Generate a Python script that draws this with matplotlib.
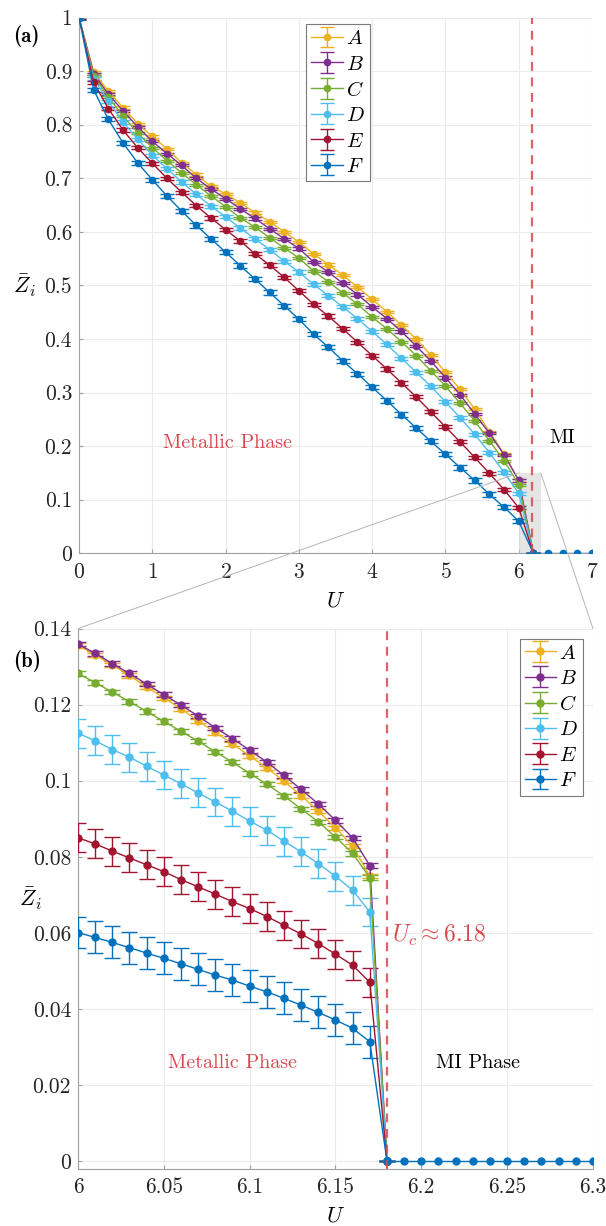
import matplotlib.pyplot as plt
import numpy as np
from matplotlib.patches import Rectangle, ConnectionPatch

plt.rcParams['font.family'] = 'serif'
plt.rcParams['font.serif'] = ['cmr10']
plt.rcParams['mathtext.fontset'] = 'cm'
plt.rcParams['axes.unicode_minus'] = False
plt.rcParams['axes.formatter.use_mathtext'] = True

labels = ['A', 'B', 'C', 'D', 'E', 'F']
colors = ['#EDB120', '#7E2F8E', '#77AC30', '#4DBEEE', '#A2142F', '#0072BD']

# panel (a): coarse scan in U
u_a = np.round(np.arange(0, 6.01, 0.2), 2)
u_a_ins = np.round(np.arange(6.2, 7.01, 0.2), 2)
z_a = {
    'A': [1.0, 0.898, 0.863, 0.832, 0.802, 0.778, 0.755, 0.729, 0.707, 0.685, 0.671,
          0.654, 0.636, 0.619, 0.600, 0.581, 0.559, 0.539, 0.519, 0.497, 0.474,
          0.451, 0.426, 0.400, 0.370, 0.338, 0.306, 0.269, 0.227, 0.185, 0.136],
    'B': [1.0, 0.895, 0.857, 0.826, 0.796, 0.769, 0.746, 0.724, 0.700, 0.680, 0.662,
          0.643, 0.625, 0.606, 0.587, 0.569, 0.544, 0.525, 0.504, 0.483, 0.460,
          0.438, 0.414, 0.387, 0.359, 0.328, 0.296, 0.260, 0.224, 0.184, 0.136],
    'C': [1.0, 0.891, 0.852, 0.816, 0.785, 0.757, 0.733, 0.710, 0.688, 0.667, 0.647,
          0.626, 0.609, 0.589, 0.570, 0.551, 0.527, 0.507, 0.486, 0.465, 0.441,
          0.419, 0.395, 0.369, 0.341, 0.312, 0.280, 0.247, 0.210, 0.173, 0.128],
    'D': [1.0, 0.886, 0.844, 0.805, 0.773, 0.743, 0.718, 0.693, 0.670, 0.648, 0.628,
          0.607, 0.587, 0.567, 0.545, 0.525, 0.502, 0.481, 0.460, 0.438, 0.414,
          0.390, 0.364, 0.338, 0.312, 0.283, 0.253, 0.222, 0.188, 0.151, 0.112],
    'E': [1.0, 0.879, 0.830, 0.790, 0.757, 0.728, 0.700, 0.674, 0.649, 0.626, 0.604,
          0.583, 0.559, 0.538, 0.515, 0.490, 0.465, 0.443, 0.419, 0.394, 0.369,
          0.344, 0.318, 0.292, 0.264, 0.236, 0.208, 0.179, 0.149, 0.119, 0.085],
    'F': [1.0, 0.865, 0.810, 0.766, 0.729, 0.697, 0.667, 0.639, 0.612, 0.587, 0.562,
          0.537, 0.512, 0.487, 0.462, 0.437, 0.409, 0.385, 0.359, 0.335, 0.310,
          0.285, 0.259, 0.234, 0.209, 0.185, 0.160, 0.136, 0.110, 0.086, 0.060],
}
err_a = {'A': 0.002, 'B': 0.002, 'C': 0.002, 'D': 0.003, 'E': 0.003, 'F': 0.004}

# panel (b): fine scan near the transition
u_b = np.round(np.arange(6.0, 6.171, 0.01), 2)
u_b_ins = np.round(np.arange(6.18, 6.301, 0.01), 2)
z_b = {
    'A': [0.1356, 0.1331, 0.1304, 0.1277, 0.1246, 0.1218, 0.1189, 0.1157, 0.1127,
          0.1097, 0.1065, 0.1034, 0.0999, 0.0961, 0.0920, 0.0876, 0.0828, 0.0749],
    'B': [0.1359, 0.1335, 0.1308, 0.1282, 0.1254, 0.1226, 0.1199, 0.1170, 0.1139,
          0.1111, 0.1080, 0.1049, 0.1014, 0.0977, 0.0939, 0.0896, 0.0850, 0.0777],
    'C': [0.1282, 0.1258, 0.1233, 0.1208, 0.1182, 0.1156, 0.1130, 0.1104, 0.1076,
          0.1049, 0.1019, 0.0991, 0.0960, 0.0926, 0.0892, 0.0852, 0.0809, 0.0745],
    'D': [0.1125, 0.1105, 0.1082, 0.1062, 0.1038, 0.1015, 0.0992, 0.0968, 0.0944,
          0.0920, 0.0894, 0.0870, 0.0841, 0.0813, 0.0782, 0.0749, 0.0712, 0.0655],
    'E': [0.0850, 0.0834, 0.0815, 0.0797, 0.0779, 0.0761, 0.0740, 0.0721, 0.0702,
          0.0682, 0.0664, 0.0643, 0.0620, 0.0597, 0.0572, 0.0544, 0.0515, 0.0470],
    'F': [0.0601, 0.0588, 0.0575, 0.0561, 0.0547, 0.0533, 0.0519, 0.0504, 0.0489,
          0.0476, 0.0460, 0.0445, 0.0428, 0.0410, 0.0391, 0.0371, 0.0349, 0.0314],
}
err_b = {'A': 0.0006, 'B': 0.0006, 'C': 0.0006, 'D': 0.0038, 'E': 0.0038, 'F': 0.0042}

u_c = 6.18
red = '#D9484F'
grid_c = '#ebebeb'
spine_c = '#a0a0a0'
fs_tick = 15.5
fs_text = 14.5

fig = plt.figure(figsize=(6.06, 12.26), dpi=100)
ax1 = fig.add_axes([0.1304, 0.5487, 0.8465, 0.4370])
ax2 = fig.add_axes([0.1287, 0.0467, 0.8498, 0.4406])


def style(ax):
    for s in ['top', 'right']:
        ax.spines[s].set_visible(False)
    for s in ['left', 'bottom']:
        ax.spines[s].set_color(spine_c)
        ax.spines[s].set_linewidth(0.8)
    ax.grid(True, color=grid_c, linewidth=0.8)
    ax.set_axisbelow(True)
    ax.tick_params(direction='in', length=3, color=spine_c, labelsize=fs_tick,
                   labelcolor='#262626')
    ax.tick_params(axis='x', pad=6.5)
    ax.tick_params(axis='y', pad=5)


def draw(ax, u, u_ins, z, err, cap, ms):
    for lab, col in zip(labels, colors):
        uu = np.concatenate([u, [u_ins[0]]])
        zz = np.concatenate([z[lab], [0.0]])
        ee = np.concatenate([np.full(len(u), err[lab]), [0.0]])
        ax.errorbar(uu, zz, yerr=ee, color=col, marker='o', ms=ms, lw=1.0,
                    capsize=cap, elinewidth=1.0, capthick=1.0, label='$%s$' % lab,
                    zorder=3)
    ax.plot(u_ins, np.zeros(len(u_ins)), color=colors[-1], marker='o', ms=ms,
            lw=1.0, zorder=4)


def legend(ax, anchor, loc):
    leg = ax.legend(loc=loc, bbox_to_anchor=anchor, fontsize=15,
                    handlelength=1.5, handletextpad=0.15, labelspacing=0.33,
                    borderpad=0.25, borderaxespad=0.0, fancybox=False, framealpha=1)
    leg.get_frame().set_edgecolor('#7a7a7a')
    leg.get_frame().set_linewidth(0.8)


# panel (a)
style(ax1)
draw(ax1, u_a, u_a_ins, z_a, err_a, 5, 4.5)
ax1.axvline(u_c, color=red, ls=(0, (4, 3)), lw=1.6, alpha=0.85, zorder=5)
ax1.add_patch(Rectangle((6.0, -0.002), 0.3, 0.152, facecolor='#d0d0d0',
                        alpha=0.55, edgecolor='none', zorder=2))
ax1.set_xlim(0, 7)
ax1.set_ylim(0, 1)
ax1.set_xticks(range(8))
ax1.set_yticks(np.arange(0, 1.01, 0.1))
ax1.set_yticklabels(['0'] + ['%.1f' % v for v in np.arange(0.1, 0.95, 0.1)] + ['1'])
ax1.set_xlabel('$U$', fontsize=16, labelpad=6)
ax1.set_ylabel(r'$\bar{Z}_i$', fontsize=16, rotation=0, va='center')
ax1.yaxis.set_label_coords(-0.107, 0.5)
ax1.text(2.03, 0.205, 'Metallic Phase', color=red, fontsize=fs_text, ha='center', va='center')
ax1.text(6.6, 0.215, 'MI', color='black', fontsize=fs_text, ha='center', va='center')
legend(ax1, (0.443, 0.987), 'upper left')

# panel (b)
style(ax2)
draw(ax2, u_b, u_b_ins, z_b, err_b, 6, 5)
ax2.axvline(u_c, color=red, ls=(0, (4, 3)), lw=1.6, alpha=0.85, zorder=5)
ax2.set_xlim(6.0, 6.3)
ax2.set_ylim(-0.002, 0.14)
ax2.set_xticks([6.0, 6.05, 6.1, 6.15, 6.2, 6.25, 6.3])
ax2.set_xticklabels(['6', '6.05', '6.1', '6.15', '6.2', '6.25', '6.3'])
ax2.set_yticks(np.arange(0, 0.141, 0.02))
ax2.set_yticklabels(['0', '0.02', '0.04', '0.06', '0.08', '0.1', '0.12', '0.14'])
ax2.set_xlabel('$U$', fontsize=16, labelpad=6)
ax2.set_ylabel(r'$\bar{Z}_i$', fontsize=16, rotation=0, va='center')
ax2.yaxis.set_label_coords(-0.093, 0.5)
ax2.text(6.09, 0.0258, 'Metallic Phase', color=red, fontsize=fs_text, ha='center', va='center')
ax2.text(6.233, 0.0258, 'MI Phase', color='black', fontsize=fs_text, ha='center', va='center')
ax2.text(6.183, 0.0592, r'$U_c \approx 6.18$', color=red, fontsize=17, ha='left', va='center')
legend(ax2, (0.981, 0.981), 'upper right')

# zoom connectors from the shaded box to panel (b)
for xa, xb in [(6.0, 0.0), (6.3, 1.0)]:
    con = ConnectionPatch(xyA=(xa, 0.15), coordsA=ax1.transData,
                          xyB=(xb, 1.0), coordsB=ax2.transAxes,
                          color='#b5b5b5', lw=0.7, zorder=1)
    fig.add_artist(con)

fig.text(0.021, 0.9706, '(a)', fontsize=15, family='cmb10', va='center')
fig.text(0.021, 0.4608, '(b)', fontsize=15, family='cmb10', va='center')

fig.savefig('out.png', dpi=100)
